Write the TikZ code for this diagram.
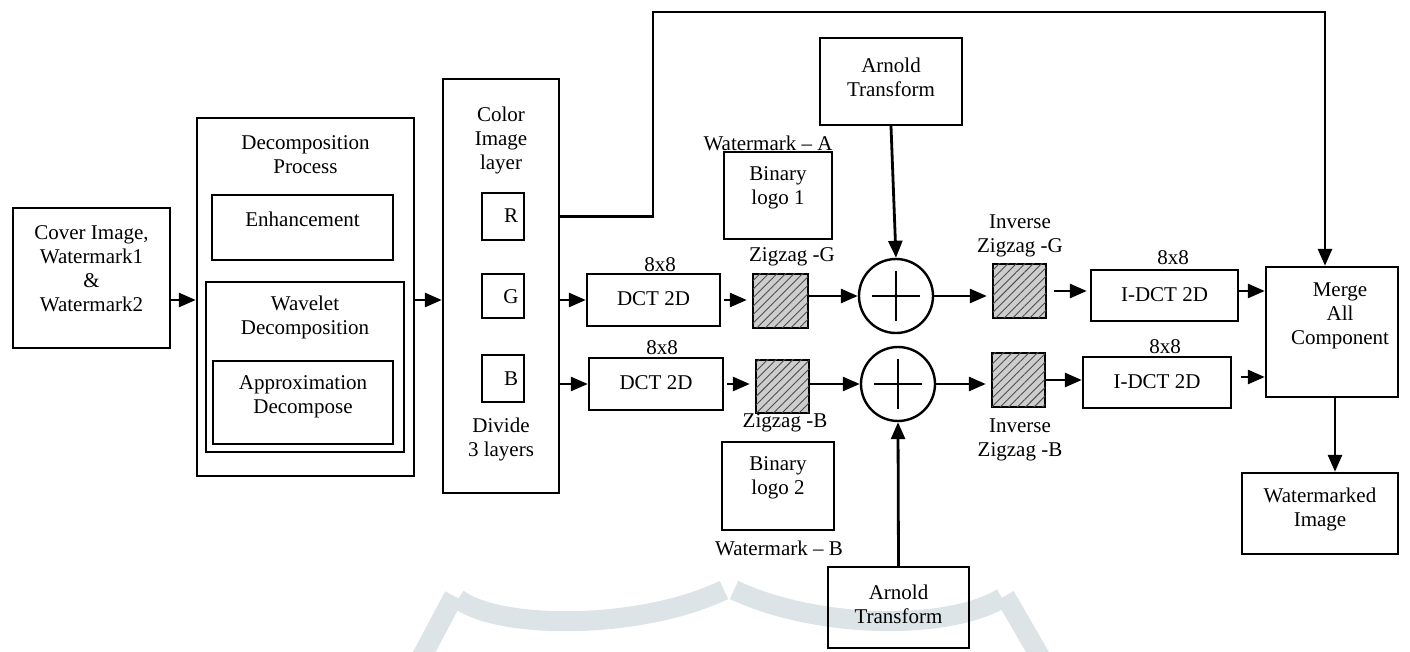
\documentclass[tikz,border=0pt]{standalone}
\usepackage{fontspec}
\setmainfont{Liberation Serif}
\usetikzlibrary{arrows.meta,patterns.meta,calc}
\definecolor{wmgray}{RGB}{221,228,232}
\definecolor{hatchfill}{RGB}{205,205,205}
\tikzset{
  box/.style={draw, line width=1.2pt, inner sep=0pt},
  txt/.style={align=center, inner sep=0pt, font=\fontsize{10.5}{12}\selectfont},
  arr/.style={line width=1.4pt, -{Triangle[length=8.5pt,width=7pt]}},
  zz/.style={box, fill=hatchfill, postaction={pattern={Lines[angle=45,distance=3pt,line width=0.45pt]}, pattern color=black!70}},
  sumnode/.style={draw, circle, line width=1.2pt, minimum size=37pt, inner sep=0pt},
  band/.style={line width=10pt, draw=wmgray}
}
\begin{document}
\begin{tikzpicture}[x=0.5pt,y=-0.5pt]
\useasboundingbox (0,0) rectangle (1410,652);
% faint background watermark
\begin{scope}
\clip (0,0) rectangle (1410,652);
\draw[band] (420,660) -- (454,596);
\draw[band] (458,599) .. controls (500,630) and (640,630) .. (724,590);
\draw[band] (734,590) .. controls (820,630) and (950,630) .. (1002,598);
\draw[band] (1005,596) -- (1042,660);
\end{scope}

% boxes
\node[box, minimum width=78.5pt, minimum height=70pt] (cover) at (91.5,278) {};
\node[txt] (covert) at (91.5,269) {Cover Image,\\Watermark1\\\&\\Watermark2};

\node[box, minimum width=108.5pt, minimum height=179pt] (decomp) at (305.5,297) {};
\node[txt] (decompt) at (305.5,155) {Decomposition\\Process};
\node[box, minimum width=90.5pt, minimum height=32.5pt] (enh) at (302.5,227.5) {};
\node[txt] (enht) at (302.5,219) {Enhancement};
\node[box, minimum width=99pt, minimum height=85pt] (wave) at (305,367) {};
\node[txt] (wavet) at (305,317) {Wavelet\\Decomposition};
\node[box, minimum width=90pt, minimum height=41.5pt] (approx) at (303,402.5) {};
\node[txt] (approxt) at (303,397) {Approximation\\Decompose};

\node[box, minimum width=58pt, minimum height=207pt] (color) at (501,286) {};
\node[txt] (colort) at (501,140) {Color\\Image\\layer};
\node[box, minimum width=21pt, minimum height=23.5pt] (R) at (503,216.5) {};
\node[txt] (Rt) at (511,216) {R};
\node[box, minimum width=21pt, minimum height=22pt] (G) at (503,296) {};
\node[txt] (Gt) at (511,297) {G};
\node[box, minimum width=21pt, minimum height=23.5pt] (B) at (503,378.5) {};
\node[txt] (Bt) at (511,379) {B};
\node[txt] (dividet) at (501,439.5) {Divide\\3 layers};

\node[box, minimum width=66.5pt, minimum height=26pt] (dctG) at (653.5,300) {};
\node[txt] (dctGt) at (653.5,299) {DCT 2D};
\node[txt] (e1) at (660,265) {8x8};
\node[box, minimum width=67pt, minimum height=26pt] (dctB) at (656,384) {};
\node[txt] (dctBt) at (656,383) {DCT 2D};
\node[txt] (e2) at (662,348) {8x8};

\node[zz, minimum width=27.5pt, minimum height=27pt] (zzG) at (780.5,301) {};
\node[txt] (zzGt) at (792,257) {Zigzag -G};
\node[zz, minimum width=26.5pt, minimum height=26.5pt] (zzB) at (782.5,386.5) {};
\node[txt] (zzBt) at (785,423) {Zigzag -B};

\node[box, minimum width=54pt, minimum height=43.5pt] (bl1) at (778,195.5) {};
\node[txt] (bl1t) at (778,188) {Binary\\logo 1};
\node[txt] (wmA) at (768,143) {Watermark -- A};
\node[box, minimum width=56pt, minimum height=44pt] (bl2) at (778,486) {};
\node[txt] (bl2t) at (778,478) {Binary\\logo 2};
\node[txt] (wmB) at (779,548) {Watermark -- B};

\node[box, minimum width=71pt, minimum height=43.5pt] (arnT) at (891,81.5) {};
\node[txt] (arnTt) at (891,77) {Arnold\\Transform};
\node[box, minimum width=70.5pt, minimum height=40.5pt] (arnB) at (898.5,607.5) {};
\node[txt] (arnBt) at (898.5,604.5) {Arnold\\Transform};

\node[sumnode] (cG) at (896,296) {};
\node[sumnode] (cB) at (898,384) {};
\draw[line width=1.2pt] ($(cG)+(-24,0)$) -- ($(cG)+(24,0)$) ($(cG)+(0,-25)$) -- ($(cG)+(0,25)$);
\draw[line width=1.2pt] ($(cB)+(-24,0)$) -- ($(cB)+(24,0)$) ($(cB)+(0,-25)$) -- ($(cB)+(0,25)$);

\node[zz, minimum width=26.5pt, minimum height=27pt] (izzG) at (1019.5,291) {};
\node[txt] (izzGt) at (1020,236) {Inverse\\Zigzag -G};
\node[zz, minimum width=26.5pt, minimum height=27pt] (izzB) at (1018.5,380) {};
\node[txt] (izzBt) at (1020,440) {Inverse\\Zigzag -B};

\node[box, minimum width=73.5pt, minimum height=25.5pt] (idctG) at (1164.5,295.5) {};
\node[txt] (idctGt) at (1164.5,295) {I-DCT 2D};
\node[txt] (e3) at (1173,258) {8x8};
\node[box, minimum width=74pt, minimum height=25.5pt] (idctB) at (1157,382.5) {};
\node[txt] (idctBt) at (1157,382) {I-DCT 2D};
\node[txt] (e4) at (1165,347) {8x8};

\node[box, minimum width=66pt, minimum height=65pt] (merge) at (1332,332) {};
\node[txt] (merget) at (1340,316) {Merge\\All\\Component};
\node[box, minimum width=78pt, minimum height=40.5pt] (wm) at (1320,513.5) {};
\node[txt] (wmt) at (1320,509.5) {Watermarked\\Image};

% connectors
\coordinate (y1) at (0,300);
\draw[arr] (cover.east |- y1) -- (decomp.west |- y1);
\draw[arr] (decomp.east |- y1) -- (color.west |- y1);
\draw[arr] (color.east |- dctG.west) -- (dctG.west);
\draw[arr] (color.east |- dctB.west) -- (dctB.west);
\draw[arr, shorten <=1.5pt, shorten >=2.5pt] (dctG.east) -- (dctG.east -| zzG.west);
\draw[arr, shorten <=1.5pt, shorten >=2.5pt] (dctB.east) -- (dctB.east -| zzB.west);
\draw[arr] (zzG.east |- cG) -- (cG.west);
\draw[arr] (zzB.east |- cB) -- (cB.west);
\draw[arr, shorten >=2.5pt] (cG.east) -- (cG.east -| izzG.west);
\draw[arr, shorten >=2.5pt] (cB.east) -- (cB.east -| izzB.west);
\draw[arr, shorten <=3.5pt, shorten >=1.5pt] (izzG.east) -- (izzG.east -| idctG.west);
\draw[arr] (izzB.east) -- (izzB.east -| idctB.west);
\draw[arr] (idctG.east |- 0,291) -- (merge.west |- 0,291);
\draw[arr, shorten <=4.5pt] (idctB.east |- 0,377) -- (merge.west |- 0,377);
\draw[arr] (arnT.south) -- (cG.north);
\draw[arr] (arnB.north) -- (cB.south);
\draw[arr] (merge.south -| 1335,0) -- (wm.north -| 1335,0);
\coordinate (lp1) at (653,12);
\coordinate (lp2) at (1325,12);
\draw[arr] (color.east |- R.east) -| (lp1) -- (lp2) -- (lp2 |- merge.north);
\end{tikzpicture}
\end{document}
